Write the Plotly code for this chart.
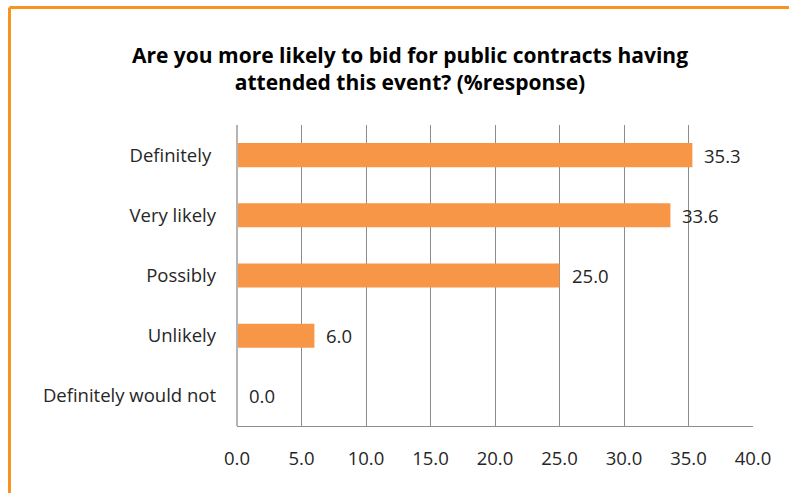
import plotly.graph_objects as go

# Survey responses (% of respondents)
categories = ["Definitely\u00a0", "Very likely", "Possibly", "Unlikely", "Definitely would not"]
values = [35.3, 33.6, 25.0, 6.0, 0.0]
x_ticks = [0, 5, 10, 15, 20, 25, 30, 35, 40]
x_tick_labels = ["0.0", "5.0", "10.0", "15.0", "20.0", "25.0", "30.0", "35.0", "40.0"]

title_text = "Are you more likely to bid for public contracts having<br>attended this event? (%response)"

FONT = "'Open Sans', sans-serif"
BAR_COLOR = "#F79646"
FRAME_COLOR = "#F7931E"
GRID_COLOR = "#8C8C8C"

W, H = 789, 493
ML, MR, MT, MB = 237, 36, 125, 67
plot_w = W - ML - MR
plot_h = H - MT - MB

fig = go.Figure()
fig.add_trace(go.Bar(
    x=values,
    y=categories,
    orientation="h",
    marker=dict(color=BAR_COLOR, line=dict(width=0)),
    width=0.4,
    hoverinfo="x+y",
))

# value labels to the right of each bar
for v, c in zip(values, categories):
    fig.add_annotation(
        x=v, y=c, xref="x", yref="y",
        text=f"{v:.1f}", showarrow=False,
        xanchor="left", yanchor="middle", xshift=10,
        font=dict(family=FONT, size=18.5, color="#262626"),
    )

# orange frame along the top and left edges of the canvas
def px_to_paper_x(px):
    return (px - ML) / plot_w

def px_to_paper_y(py):
    return (H - MB - py) / plot_h

frame_x = px_to_paper_x(9.5)
frame_y = px_to_paper_y(7.5)
fig.add_shape(type="line", xref="paper", yref="paper",
              x0=frame_x, x1=frame_x, y0=px_to_paper_y(H + 5), y1=frame_y,
              line=dict(color=FRAME_COLOR, width=3))
fig.add_shape(type="line", xref="paper", yref="paper",
              x0=frame_x, x1=px_to_paper_x(W + 5), y0=frame_y, y1=frame_y,
              line=dict(color=FRAME_COLOR, width=3))

# left axis line (lighter, slightly heavier)
fig.add_shape(type="line", xref="paper", yref="paper",
              x0=0, x1=0, y0=0, y1=1,
              line=dict(color="#B4B4B4", width=2), layer="above")

fig.update_layout(
    width=W, height=H,
    margin=dict(l=ML, r=MR, t=MT, b=MB, pad=0),
    paper_bgcolor="white",
    plot_bgcolor="white",
    showlegend=False,
    bargap=0.6,
    title=dict(
        text=title_text,
        x=px_to_paper_x(410), xref="paper", xanchor="center",
        y=1 - 63 / H, yref="container", yanchor="middle",
        font=dict(family=FONT, size=21, color="black", weight="bold"),
    ),
    xaxis=dict(
        range=[0, 40],
        tickvals=x_ticks,
        ticktext=x_tick_labels,
        showgrid=True,
        gridcolor=GRID_COLOR,
        gridwidth=1,
        zeroline=False,
        showline=True,
        linecolor=GRID_COLOR,
        linewidth=1,
        ticks="",
        ticklabelstandoff=16,
        tickfont=dict(family=FONT, size=18.5, color="#262626"),
        fixedrange=True,
    ),
    yaxis=dict(
        categoryorder="array",
        categoryarray=categories[::-1],
        showgrid=False,
        zeroline=False,
        showline=False,
        ticks="",
        ticklabelstandoff=20,
        tickfont=dict(family=FONT, size=18.5, color="#262626"),
        fixedrange=True,
    ),
)

fig.write_html("out.html")
